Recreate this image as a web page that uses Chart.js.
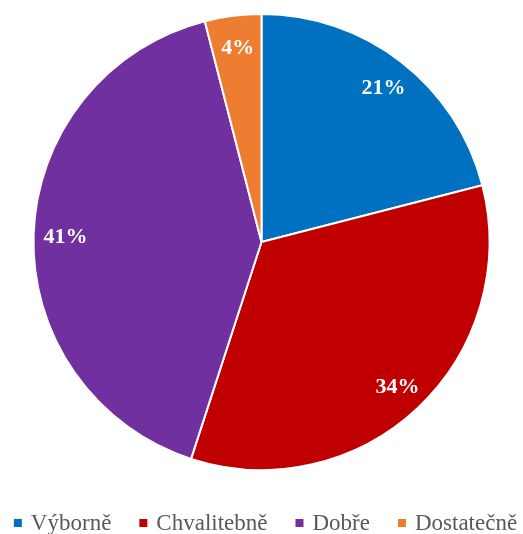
<!DOCTYPE html>
<html>
<head>
<meta charset="utf-8">
<script src="https://cdn.jsdelivr.net/npm/chart.js@4.4.0/dist/chart.umd.min.js"></script>
<style>
  html, body { margin: 0; padding: 0; background: #fff; }
  #wrap { width: 523px; height: 534px; }
</style>
</head>
<body>
<div id="wrap"><canvas id="chart" width="523" height="534"></canvas></div>
<script>
const grades = ['Výborně', 'Chvalitebně', 'Dobře', 'Dostatečně'];
const shares = [21, 34, 41, 4];
const sliceColors = ['#0070C0', '#C00000', '#7030A0', '#ED7D31'];

const serif = '"Liberation Serif", "Times New Roman", serif';

// percent labels inside the slices
const sliceLabels = {
    id: 'sliceLabels',
    afterDatasetsDraw(chart) {
        const ctx = chart.ctx;
        const meta = chart.getDatasetMeta(0);
        const total = shares.reduce((a, b) => a + b, 0);
        ctx.save();
        ctx.fillStyle = '#ffffff';
        ctx.font = 'bold 22px ' + serif;
        ctx.textAlign = 'center';
        ctx.textBaseline = 'middle';
        meta.data.forEach((arc, i) => {
            const p = arc.getProps(['x', 'y', 'startAngle', 'endAngle', 'outerRadius'], true);
            const mid = (p.startAngle + p.endAngle) / 2;
            const r = p.outerRadius * 0.865;
            const pct = Math.round(shares[i] / total * 100) + '%';
            ctx.fillText(pct, p.x + Math.cos(mid) * r + 1, p.y + Math.sin(mid) * r + 2);
        });
        ctx.restore();
    }
};

// office-style legend row under the pie (square marker, wide gaps)
const bottomLegend = {
    id: 'bottomLegend',
    afterDraw(chart) {
        const ctx = chart.ctx;
        const box = 8, boxGap = 9, itemGap = 28;
        ctx.save();
        ctx.font = '23px ' + serif;
        const widths = grades.map(g => ctx.measureText(g).width);
        let total = widths.reduce((a, b) => a + b, 0) + grades.length * (box + boxGap) + (grades.length - 1) * itemGap;
        let x = (chart.width - total) / 2 + 4;
        const baseline = 530;
        grades.forEach((g, i) => {
            ctx.fillStyle = sliceColors[i];
            ctx.fillRect(x, 519, box, box);
            x += box + boxGap;
            ctx.fillStyle = '#595959';
            ctx.textBaseline = 'alphabetic';
            ctx.fillText(g, x, baseline);
            x += widths[i] + itemGap;
        });
        ctx.restore();
    }
};

document.addEventListener('DOMContentLoaded', () => {
    const config = {
        type: 'pie',
        data: {
            labels: grades,
            datasets: [{
                data: shares,
                backgroundColor: sliceColors,
                borderColor: '#ffffff',
                borderWidth: 2
            }]
        },
        options: {
            responsive: false,
            animation: false,
            layout: {
                padding: { top: 13, bottom: 63, left: 0, right: 0 }
            },
            plugins: {
                legend: { display: false },
                tooltip: { enabled: false }
            }
        },
        plugins: [sliceLabels, bottomLegend]
    };

    const ctx = document.getElementById('chart').getContext('2d');
    new Chart(ctx, config);
});
</script>
</body>
</html>
